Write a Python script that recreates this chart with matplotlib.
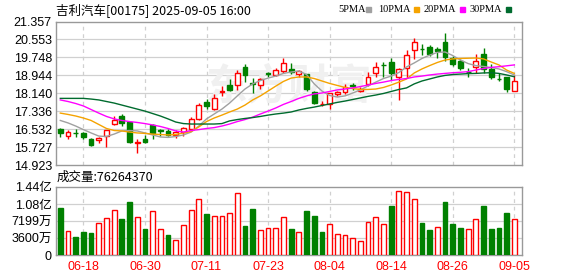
import numpy as np
import pandas as pd
import matplotlib
matplotlib.use('Agg')
import matplotlib.pyplot as plt
from matplotlib.patches import Rectangle

plt.rcParams['font.family'] = ['Liberation Sans', 'Noto Sans CJK SC', 'DejaVu Sans']

# daily candles, 60 trading days up to 2025-09-05
opens = [16.52, 16.22, 16.38, 16.36, 16.07, 16.03, 16.21, 16.75, 17.13, 16.84,
         15.93, 16.10, 16.72, 16.47, 16.46, 16.27, 16.41, 16.54, 16.98, 17.73,
         17.45, 18.19, 18.51, 18.51, 19.30, 18.59, 18.51, 19.03, 18.96, 19.14,
         19.23, 18.99, 18.99, 18.21, 17.65, 17.65, 18.09, 18.18, 18.51, 18.25,
         18.55, 19.06, 19.42, 19.56, 18.88, 19.26, 20.08, 20.13, 20.20, 20.11,
         20.45, 19.71, 19.59, 19.10, 19.30, 19.90, 19.21, 18.80, 18.88, 18.25]
highs = [16.60, 16.49, 16.52, 16.39, 16.12, 16.16, 16.50, 17.12, 17.21, 16.87,
         16.11, 16.26, 16.77, 16.52, 16.52, 16.49, 16.61, 17.09, 17.69, 17.87,
         18.09, 18.47, 18.78, 19.18, 19.44, 18.81, 18.84, 19.11, 19.28, 19.73,
         19.48, 19.18, 19.02, 18.24, 17.81, 18.14, 18.24, 18.54, 18.59, 18.43,
         19.11, 19.56, 19.56, 19.71, 19.26, 20.08, 20.60, 20.35, 20.30, 20.23,
         20.85, 19.82, 19.66, 19.26, 19.90, 20.15, 19.44, 19.04, 18.88, 18.96]
lows = [16.17, 16.10, 16.19, 16.07, 15.77, 15.92, 15.74, 16.72, 16.69, 15.89,
        15.46, 15.89, 16.07, 16.22, 16.22, 16.12, 16.22, 16.49, 16.94, 17.42,
        17.38, 18.02, 18.25, 18.29, 18.66, 18.17, 18.32, 18.88, 18.91, 19.06,
        19.00, 18.88, 18.25, 17.66, 17.57, 17.42, 18.00, 18.09, 18.29, 18.20,
        18.46, 18.88, 18.88, 18.73, 17.84, 18.84, 19.66, 19.85, 19.81, 19.71,
        19.60, 19.37, 19.18, 18.85, 19.06, 19.07, 18.76, 18.70, 18.21, 18.25]
closes = [16.34, 16.40, 16.36, 16.19, 15.83, 16.15, 16.49, 16.94, 16.82, 15.97,
          15.95, 15.94, 16.34, 16.45, 16.27, 16.40, 16.56, 16.97, 17.61, 17.57,
          17.94, 18.22, 18.29, 19.03, 18.96, 18.54, 18.78, 19.01, 19.18, 19.48,
          19.08, 19.15, 18.32, 17.72, 17.67, 18.14, 18.21, 18.43, 18.46, 18.33,
          18.88, 19.33, 19.40, 19.04, 19.21, 19.85, 20.45, 20.11, 19.90, 20.05,
          19.75, 19.44, 19.26, 19.08, 19.59, 19.21, 18.88, 18.77, 18.32, 18.70]

# moving averages as shown on the chart
ma5 = [16.92, 16.81, 16.67, 16.51, 16.36, 16.22, 16.20, 16.31, 16.45, 16.47,
       16.45, 16.36, 16.27, 16.18, 16.16, 16.20, 16.27, 16.40, 16.67, 16.99,
       17.21, 17.43, 17.70, 18.02, 18.33, 18.56, 18.71, 18.82, 18.91, 19.03,
       19.09, 19.14, 18.98, 18.56, 18.24, 18.04, 17.97, 18.02, 18.15, 18.29,
       18.47, 18.64, 18.80, 18.91, 19.07, 19.32, 19.50, 19.70, 19.85, 19.97,
       19.99, 19.83, 19.63, 19.47, 19.38, 19.34, 19.29, 19.23, 19.11, 18.96]
ma10 = [17.25, 17.19, 17.12, 17.03, 16.92, 16.74, 16.56, 16.47, 16.45, 16.40,
        16.36, 16.34, 16.31, 16.29, 16.27, 16.29, 16.36, 16.42, 16.63, 16.87,
        17.03, 17.16, 17.30, 17.43, 17.61, 17.84, 18.02, 18.24, 18.46, 18.67,
        18.82, 18.87, 18.87, 18.80, 18.69, 18.58, 18.49, 18.40, 18.35, 18.31,
        18.31, 18.33, 18.40, 18.51, 18.64, 18.78, 19.05, 19.23, 19.38, 19.52,
        19.63, 19.68, 19.70, 19.71, 19.72, 19.68, 19.54, 19.41, 19.18, 19.03]
ma20 = [17.84, 17.77, 17.68, 17.57, 17.41, 17.25, 17.10, 16.99, 16.92, 16.87,
        16.83, 16.78, 16.72, 16.65, 16.56, 16.45, 16.40, 16.47, 16.51, 16.56,
        16.60, 16.67, 16.76, 16.87, 16.96, 17.07, 17.21, 17.34, 17.48, 17.64,
        17.77, 17.91, 18.02, 18.11, 18.15, 18.22, 18.29, 18.33, 18.38, 18.44,
        18.51, 18.58, 18.64, 18.71, 18.76, 18.80, 18.87, 18.91, 18.96, 19.00,
        19.03, 19.06, 19.08, 19.11, 19.18, 19.25, 19.30, 19.33, 19.37, 19.41]
ma30 = [17.91, 17.91, 17.91, 17.91, 17.88, 17.84, 17.77, 17.70, 17.61, 17.52,
        17.43, 17.34, 17.23, 17.12, 16.99, 16.85, 16.78, 16.76, 16.76, 16.76,
        16.76, 16.78, 16.90, 16.96, 17.01, 17.05, 17.10, 17.16, 17.21, 17.25,
        17.30, 17.39, 17.46, 17.52, 17.59, 17.66, 17.73, 17.79, 17.86, 17.93,
        18.00, 18.06, 18.13, 18.22, 18.31, 18.38, 18.56, 18.69, 18.78, 18.87,
        18.94, 18.98, 19.00, 19.02, 19.03, 19.05, 19.06, 19.03, 18.96, 18.88]

# volume in millions of shares, colour flag (1 = red / up)
volume = [100.2, 50.8, 38.1, 48.7, 46.6, 67.8, 78.4, 95.3, 76.2, 112.9,
          80.5, 55.1, 93.2, 55.1, 42.4, 31.8, 63.5, 95.3, 118.6, 87.5,
          82.6, 82.6, 89.0, 132.0, 61.4, 98.1, 53.0, 57.2, 57.2, 80.5,
          55.7, 48.7, 93.8, 83.2, 49.4, 65.7, 44.5, 42.4, 36.0, 29.7,
          69.9, 80.5, 65.7, 103.8, 135.6, 133.4, 118.6, 67.8, 53.0, 59.3,
          112.9, 65.7, 57.2, 55.1, 76.2, 103.8, 55.1, 57.2, 89.0, 76.26]
vol_up = [0, 1, 0, 0, 0, 1, 1, 1, 0, 0, 1, 0, 1, 1, 0, 1, 1, 1, 1, 0,
          1, 1, 1, 1, 0, 0, 1, 1, 1, 1, 0, 1, 0, 0, 0, 1, 1, 1, 1, 1,
          1, 1, 1, 0, 1, 1, 1, 0, 0, 1, 0, 0, 0, 1, 1, 0, 0, 0, 0, 1]

date_labels = ['06-18', '06-30', '07-11', '07-23', '08-04', '08-14', '08-26', '09-05']
date_pos = [3, 11, 19, 27, 35, 43, 51, 59]
price_ticks = [14.923, 15.727, 16.532, 17.336, 18.140, 18.944, 19.748, 20.553, 21.357]
vol_ticks = [0, 35.995, 71.99, 107.985, 143.98]
vol_labels = ['0', '3600万', '7199万', '1.08亿', '1.44亿']

RED = '#ff0000'
GREEN = '#008000'
FRAME = '#999999'
GRID = '#d0d0d0'

df = pd.DataFrame({'open': opens, 'high': highs, 'low': lows, 'close': closes})
x = np.arange(len(df))
up = df['close'] >= df['open']

fig = plt.figure(figsize=(5.78, 2.76), dpi=100)
W, H = 578, 276
ax = fig.add_axes([56 / W, 1 - 165 / H, 466 / W, 143.5 / H])
axv = fig.add_axes([56 / W, 1 - 255 / H, 466 / W, 68 / H])

for a in (ax, axv):
    a.set_xlim(-0.56, 60.0)
    for s in a.spines.values():
        s.set_color(FRAME)
        s.set_linewidth(1)
    for p in date_pos:
        a.axvline(p, color=GRID, lw=0.9, ls=(0, (3, 3)), zorder=0)
    a.tick_params(length=0, labelsize=9, pad=3)

# price panel
ax.set_ylim(price_ticks[0], price_ticks[-1])
ax.set_yticks(price_ticks)
ax.set_yticklabels([f'{t:.3f}' for t in price_ticks])
for t in price_ticks[1:-1]:
    ax.axhline(t, color=GRID, lw=0.9, zorder=0)
ax.set_xticks([])
ax.text(0.5, 0.55, '东方财富', transform=ax.transAxes, ha='center', va='center',
        fontsize=30, fontweight='bold', color='#f0f0f0', zorder=0.5,
        family=['Noto Sans CJK SC'])

cols = np.where(up, RED, GREEN)
ax.vlines(x, df['low'], df['high'], colors=cols, lw=1, zorder=3)
body = (df['close'] - df['open']).abs().clip(lower=0.012)
bottom = df[['open', 'close']].min(axis=1)
ax.bar(x, body, bottom=bottom, width=0.62, color=np.where(up, 'white', GREEN),
       edgecolor=cols, linewidth=1, zorder=4)

ax.plot(x, ma5, color='#a0a0a0', lw=1, zorder=5)
ax.plot(x, ma10, color='#f5a300', lw=1, zorder=5)
ax.plot(x, ma20, color='#ff00ff', lw=1, zorder=5)
ax.plot(x, ma30, color='#006b2e', lw=1, zorder=5)

# volume panel
axv.set_ylim(0, vol_ticks[-1])
axv.set_yticks(vol_ticks)
axv.set_yticklabels(vol_labels)
for t in vol_ticks[1:-1]:
    axv.axhline(t, color=GRID, lw=0.9, zorder=0)
vcol = [RED if u else GREEN for u in vol_up]
vface = ['white' if u else GREEN for u in vol_up]
axv.bar(x, volume, width=0.62, color=vface, edgecolor=vcol, linewidth=1, zorder=3)
axv.set_xticks(date_pos)
axv.set_xticklabels(date_labels, color=RED)
axv.tick_params(axis='x', pad=4)

# header texts
fig.text(56 / W, 1 - 10 / H, '吉利汽车[00175] 2025-09-05 16:00', ha='left', va='center',
         fontsize=9, family=['Noto Sans CJK SC', 'DejaVu Sans'])
fig.text(57 / W, 1 - 177 / H, '成交量:76264370', ha='left', va='center',
         fontsize=9, family=['Noto Sans CJK SC', 'DejaVu Sans'])

# legend: label text then a coloured square
legend = [('5PMA', '#a0a0a0', 338, 366), ('10PMA', '#f5a300', 378, 414),
          ('20PMA', '#ff00ff', 424, 460), ('30PMA', '#006b2e', 470, 506)]
for name, c, tx, sx in legend:
    fig.text(tx / W, 1 - 9 / H, name, ha='left', va='center', fontsize=7.5,
             family=['Liberation Serif'])
    fig.patches.append(Rectangle((sx / W, 1 - 12 / H), 5 / W, 5 / H, color=c,
                                 transform=fig.transFigure, figure=fig))

fig.savefig('out.png', dpi=100)
